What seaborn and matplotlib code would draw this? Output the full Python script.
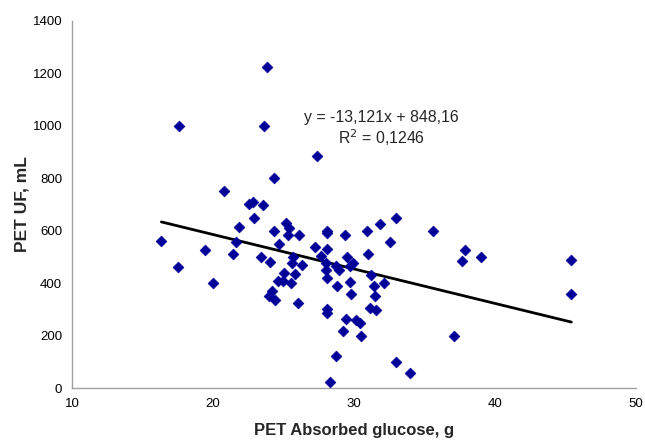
import numpy as np
import pandas as pd
import matplotlib
matplotlib.use("Agg")
import matplotlib.pyplot as plt
import seaborn as sns

# values
glucose = [16.34, 17.52, 17.62, 19.46, 20.0, 20.76, 21.44, 21.61, 21.87, 22.53,
           22.82, 22.89, 23.4, 23.57, 23.6, 23.86, 23.97, 24.04, 24.18, 24.33,
           24.33, 24.42, 24.61, 24.71, 24.97, 25.04, 25.18, 25.32, 25.37, 25.51,
           25.63, 25.65, 25.82, 26.03, 26.08, 26.34, 27.26, 27.35, 27.66, 27.99,
           28.04, 28.06, 28.06, 28.1, 28.08, 28.1, 28.1, 28.33, 28.7, 28.77,
           28.75, 28.95, 29.22, 29.34, 29.46, 29.53, 29.7, 29.75, 29.81, 29.93,
           30.17, 30.4, 30.48, 30.95, 31.02, 31.11, 31.18, 31.49, 31.4, 31.54,
           31.87, 32.1, 32.53, 32.96, 33.0, 34.0, 35.63, 37.09, 37.66, 37.9,
           39.0, 45.42, 45.42]
uf = [560, 461, 1000, 525, 400, 750, 510, 556, 614, 701,
      711, 648, 500, 700, 1000, 1225, 351, 480, 370, 800,
      600, 335, 410, 551, 410, 440, 628, 584, 610, 400,
      478, 501, 435, 325, 585, 470, 540, 885, 503, 479,
      450, 600, 590, 530, 421, 301, 286, 25, 124, 390,
      465, 450, 220, 585, 264, 501, 405, 467, 360, 477,
      260, 250, 199, 600, 510, 304, 430, 350, 390, 298,
      627, 400, 556, 650, 100, 60, 600, 199, 486, 527,
      500, 489, 359]

slope = -13.121
intercept = 848.16
r2_text = "0,1246"

df = pd.DataFrame({"glucose": glucose, "uf": uf})
x_fit = np.array([df["glucose"].min(), df["glucose"].max()])
fit = pd.DataFrame({"glucose": x_fit, "uf": slope * x_fit + intercept})

sns.set_style("white")
plt.rcParams["font.family"] = ["Liberation Sans", "DejaVu Sans"]

fig = plt.figure(figsize=(6.45, 4.41), dpi=100)
ax = fig.add_axes([0.1116, 0.1195, 0.8744, 0.8335])

sns.scatterplot(data=df, x="glucose", y="uf", marker="D", s=30,
                color="#000099", edgecolor="#000099", linewidth=0.5, ax=ax, zorder=3)
sns.lineplot(data=fit, x="glucose", y="uf", color="black", linewidth=2, ax=ax, zorder=2)

ax.set_xlim(10, 50)
ax.set_ylim(0, 1400)
ax.set_xticks(range(10, 51, 10))
ax.set_yticks(range(0, 1401, 200))

for side in ["top", "right"]:
    ax.spines[side].set_visible(False)
for side in ["left", "bottom"]:
    ax.spines[side].set_color("#a0a0a0")
    ax.spines[side].set_linewidth(1)
ax.tick_params(axis="both", direction="out", length=4, width=1, color="#a0a0a0",
               labelsize=9.5, labelcolor="black", pad=3)

ax.set_xlabel("PET Absorbed glucose, g", fontsize=12, fontweight="bold", labelpad=9)
ax.set_ylabel("PET UF, mL", fontsize=12.5, fontweight="bold", labelpad=2)

ax.text(31.96, 1030, "y = -13,121x + 848,16", ha="center", va="center", fontsize=11.4)
ax.text(31.96, 955, "R$^2$ = " + r2_text, ha="center", va="center", fontsize=11.4)

fig.savefig("out.png", dpi=100)
